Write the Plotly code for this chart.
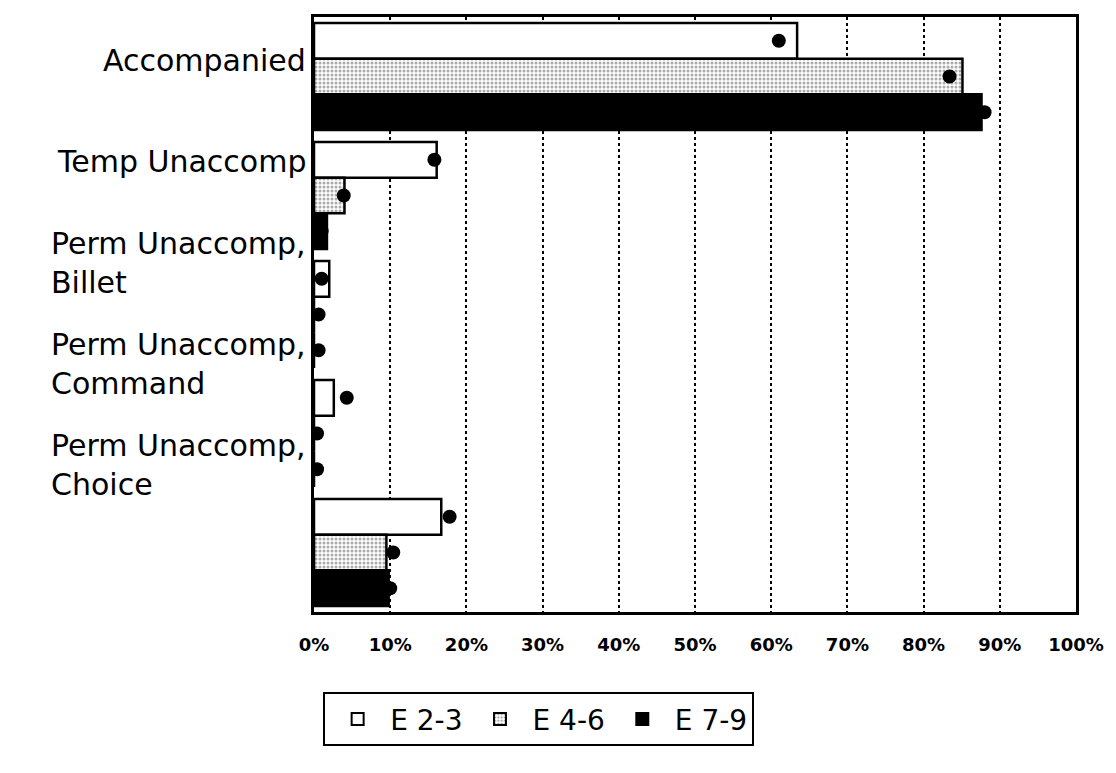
# grouped horizontal bars with dot markers, by pay grade group

import plotly.graph_objects as go

categories = ["Accompanied", "Temp Unaccomp", "Perm Unaccomp,<br>Billet",
              "Perm Unaccomp,<br>Command", "Perm Unaccomp,<br>Choice"]
series_names = ["E 2-3", "E 4-6", "E 7-9"]

# bar lengths (%)
bars_e23 = [63.4, 16.1, 2.0, 2.6, 16.7]
bars_e46 = [85.1, 4.0, 0.0, 0.0, 9.5]
bars_e79 = [87.6, 1.7, 0.0, 0.0, 9.8]

# dot values (%)
dots_e23 = [61.0, 15.8, 1.0, 4.3, 17.8]
dots_e46 = [83.4, 3.9, 0.6, 0.4, 10.4]
dots_e79 = [88.0, 1.0, 0.6, 0.4, 10.0]

x_ticks = [0, 10, 20, 30, 40, 50, 60, 70, 80, 90, 100]

fig = go.Figure()

bar_styles = [
    dict(color="white"),
    dict(color="white", pattern=dict(shape=".", fgcolor="#555", bgcolor="white",
                                     size=4, solidity=0.45, fillmode="overlay")),
    dict(color="black"),
]
bar_data = [bars_e23, bars_e46, bars_e79]
dot_data = [dots_e23, dots_e46, dots_e79]

for i, name in enumerate(series_names):
    fig.add_trace(go.Bar(
        y=categories, x=bar_data[i], name=name, orientation="h",
        offsetgroup=str(i),
        marker=dict(line=dict(color="black", width=2.5), **bar_styles[i]),
    ))

for i, name in enumerate(series_names):
    fig.add_trace(go.Scatter(
        y=categories, x=dot_data[i], name=name + " dot", orientation="h",
        mode="markers", offsetgroup=str(i), showlegend=False,
        marker=dict(color="black", size=14),
    ))

# category labels, left-aligned lines
for i, cat in enumerate(categories):
    fig.add_annotation(
        x=0, xref="paper", xanchor="right", xshift=-6,
        y=cat, yref="y", yshift=16 + 18 * i,
        text=cat, showarrow=False, align="left",
        font=dict(family="DejaVu Sans", size=30, color="black"),
    )

fig.update_layout(
    width=1116, height=773,
    margin=dict(l=306, r=48, t=6, b=169),
    paper_bgcolor="white", plot_bgcolor="white",
    barmode="group", bargap=0.1, bargroupgap=0.0,
    scattermode="group", scattergap=0.1,
    showlegend=True,
    legend=dict(
        orientation="h", x=0.012, xanchor="left", y=-0.135, yanchor="top",
        bordercolor="black", borderwidth=2, bgcolor="white",
        font=dict(family="DejaVu Sans", size=28, color="black"),
        itemsizing="constant", itemwidth=55,
    ),
)

fig.update_xaxes(
    range=[0, 100], tickvals=x_ticks, ticktext=[f"{v}%" for v in x_ticks],
    showgrid=True, gridcolor="black", griddash="dot", gridwidth=2,
    showline=True, linecolor="black", linewidth=3, mirror=True,
    zeroline=False, ticks="", ticklabelstandoff=14,
    tickfont=dict(family="DejaVu Sans", size=18, color="black", weight="bold"),
)
fig.update_yaxes(
    range=[len(categories) - 0.5, -0.5], showticklabels=False,
    showline=True, linecolor="black", linewidth=3, mirror=True,
    showgrid=False,
)

fig.write_html("out.html")
